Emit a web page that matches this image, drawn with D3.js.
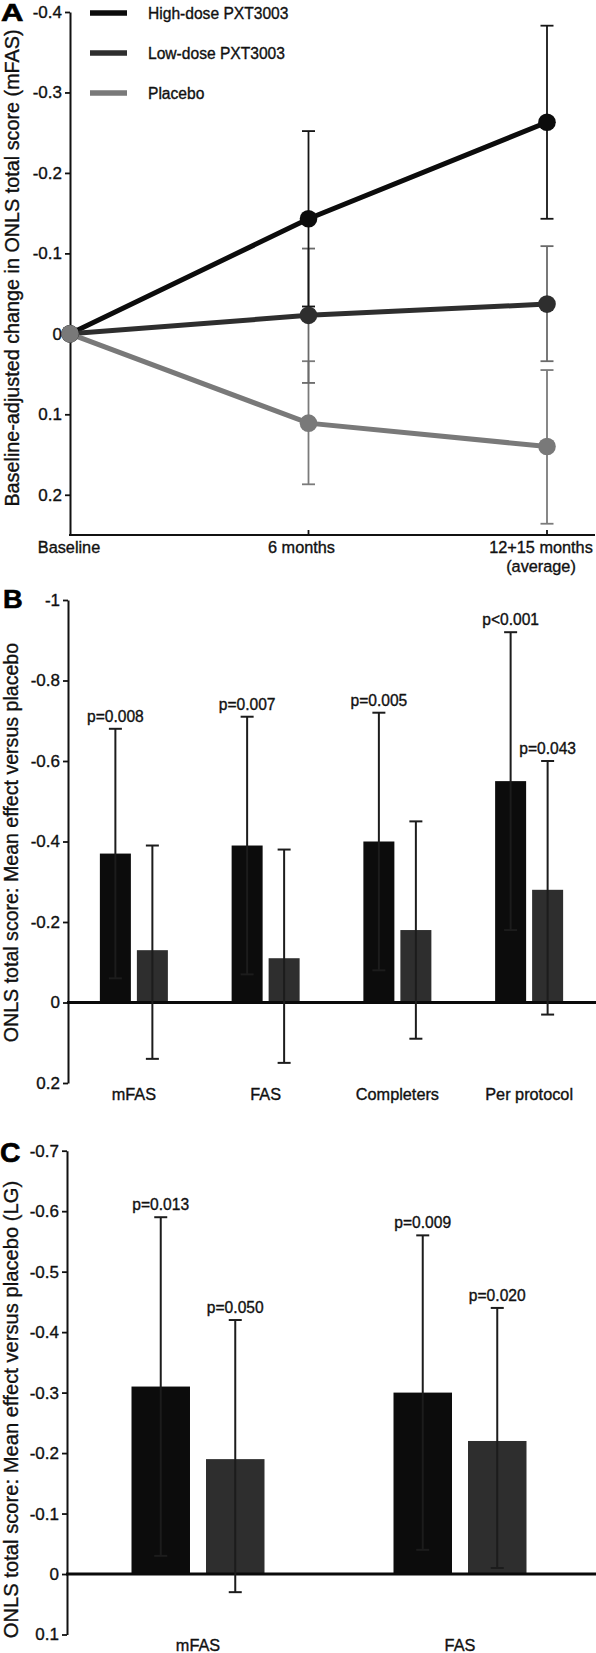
<!DOCTYPE html>
<html>
<head>
<meta charset="utf-8">
<script src="https://cdn.jsdelivr.net/npm/d3@7/dist/d3.min.js"></script>
<style>
  html, body { margin: 0; padding: 0; background: #fff; }
  svg { display: block; }
  text { font-family: "Liberation Sans", Arial, Helvetica, sans-serif; fill: #111; stroke: #111; stroke-width: 0.35px; }
</style>
</head>
<body>
<svg id="chart" width="596" height="1653"></svg>
<script>
// ---------------- DATA ----------------
// Panel A
const timepoints = ["Baseline", "6 months", "12+15 months (average)"];
const timeLabels = [["Baseline"], ["6 months"], ["12+15 months", "(average)"]];
const seriesA = ["High-dose PXT3003", "Low-dose PXT3003", "Placebo"];
const highA      = [0, -0.143, -0.263];
const highA_lo   = [null, -0.252, -0.383];
const highA_hi   = [null, -0.034, -0.143];
const lowA       = [0, -0.023, -0.037];
const lowA_lo    = [null, -0.106, -0.109];
const lowA_hi    = [null, 0.061, 0.034];
const placeboA   = [0, 0.111, 0.140];
const placeboA_lo = [null, 0.034, 0.045];
const placeboA_hi = [null, 0.187, 0.236];
const ticksA = [-0.4, -0.3, -0.2, -0.1, 0, 0.1, 0.2];
const tickLabelsA = ["-0.4", "-0.3", "-0.2", "-0.1", "0", "0.1", "0.2"];

// Panel B
const catsB = ["mFAS", "FAS", "Completers", "Per protocol"];
const highB    = [-0.37, -0.39, -0.40, -0.55];
const highB_lo = [-0.68, -0.71, -0.72, -0.92];
const highB_hi = [-0.06, -0.07, -0.08, -0.18];
const lowB     = [-0.13, -0.11, -0.18, -0.28];
const lowB_lo  = [-0.39, -0.38, -0.45, -0.60];
const lowB_hi  = [0.14, 0.15, 0.09, 0.03];
const pHighB = ["p=0.008", "p=0.007", "p=0.005", "p<0.001"];
const pLowB  = [null, null, null, "p=0.043"];
const ticksB = [-1, -0.8, -0.6, -0.4, -0.2, 0, 0.2];
const tickLabelsB = ["-1", "-0.8", "-0.6", "-0.4", "-0.2", "0", "0.2"];

// Panel C
const catsC = ["mFAS", "FAS"];
const highC    = [-0.31, -0.30];
const highC_lo = [-0.59, -0.56];
const highC_hi = [-0.03, -0.04];
const lowC     = [-0.19, -0.22];
const lowC_lo  = [-0.42, -0.44];
const lowC_hi  = [0.03, -0.01];
const pHighC = ["p=0.013", "p=0.009"];
const pLowC  = ["p=0.050", "p=0.020"];
const ticksC = [-0.7, -0.6, -0.5, -0.4, -0.3, -0.2, -0.1, 0, 0.1];
const tickLabelsC = ["-0.7", "-0.6", "-0.5", "-0.4", "-0.3", "-0.2", "-0.1", "0", "0.1"];

// ---------------- STYLE ----------------
const W = 596;
const colHigh = "#0c0c0c", colLow = "#2e2e2e", colPlacebo = "#797979";
const errColA = ["#161616", "#6a6a6a", "#7b7b7b"];
const tickFont = "17px", catFont = "16.3px", pFont = "15.6px";

const svg = d3.select("#chart");

function styleAxis(g) {
  g.select(".domain").attr("stroke", "#111").attr("stroke-width", 2);
  g.selectAll(".tick line").attr("stroke", "#111").attr("stroke-width", 1.8);
  g.selectAll(".tick text").style("font-size", tickFont).attr("fill", "#111");
}

function yTitle(text, x, cy, size) {
  svg.append("text")
    .attr("transform", `translate(${x},${cy}) rotate(-90)`)
    .attr("text-anchor", "middle")
    .style("font-size", size)
    .text(text);
}

function panelLetter(t, x, y, size, sx) {
  svg.append("text")
    .attr("transform", `translate(${x},${y}) scale(${sx},1)`)
    .style("font-size", size).style("font-weight", "bold")
    .style("fill", "#000").style("stroke", "#000").style("stroke-width", "0.6px")
    .text(t);
}

// ================= PANEL A =================
{
  const yA = d3.scaleLinear().domain([0.25, -0.4]).range([535, 12]);
  const xA = d3.scalePoint().domain(timepoints).range([70, 547]);
  const x0 = 70;

  const gy = svg.append("g").attr("transform", `translate(${x0},0)`)
    .call(d3.axisLeft(yA).tickValues(ticksA)
      .tickFormat((d, i) => tickLabelsA[i]).tickSize(5).tickPadding(3).tickSizeOuter(0));
  styleAxis(gy);

  svg.append("line").attr("x1", x0 - 1).attr("x2", W - 1)
    .attr("y1", yA(0.25)).attr("y2", yA(0.25))
    .attr("stroke", "#111").attr("stroke-width", 2);
  svg.append("g").selectAll("line").data(timepoints.slice(1)).join("line")
    .attr("x1", d => xA(d)).attr("x2", d => xA(d))
    .attr("y1", yA(0.25)).attr("y2", yA(0.25) - 5)
    .attr("stroke", "#111").attr("stroke-width", 1.8);

  const labelDx = [-1, -7, -6];
  timepoints.forEach((t, i) => {
    const tx = svg.append("text").attr("text-anchor", "middle")
      .attr("x", xA(t) + labelDx[i]).attr("y", 553).style("font-size", catFont);
    timeLabels[i].forEach((ln, j) => {
      tx.append("tspan").attr("x", xA(t) + labelDx[i]).attr("dy", j === 0 ? 0 : 19).text(ln);
    });
  });

  const series = [
    { name: seriesA[0], v: highA, lo: highA_lo, hi: highA_hi, col: colHigh, ecol: errColA[0] },
    { name: seriesA[1], v: lowA, lo: lowA_lo, hi: lowA_hi, col: colLow, ecol: errColA[1] },
    { name: seriesA[2], v: placeboA, lo: placeboA_lo, hi: placeboA_hi, col: colPlacebo, ecol: errColA[2] }
  ];

  const gErr = svg.append("g");
  [series[2], series[1], series[0]].forEach(s => {
    timepoints.forEach((t, i) => {
      if (s.lo[i] === null) return;
      const x = xA(t), y1 = yA(s.lo[i]), y2 = yA(s.hi[i]);
      gErr.append("line").attr("x1", x).attr("x2", x).attr("y1", y1).attr("y2", y2)
        .attr("stroke", s.ecol).attr("stroke-width", 1.8);
      [y1, y2].forEach(yy => gErr.append("line")
        .attr("x1", x - 6.5).attr("x2", x + 6.5).attr("y1", yy).attr("y2", yy)
        .attr("stroke", s.ecol).attr("stroke-width", 1.8));
    });
  });

  const line = d3.line().x((d, i) => xA(timepoints[i])).y(d => yA(d));
  series.forEach(s => {
    svg.append("path").datum(s.v).attr("d", line)
      .attr("fill", "none").attr("stroke", s.col).attr("stroke-width", 5);
  });
  series.forEach(s => {
    svg.append("g").selectAll("circle").data(s.v).join("circle")
      .attr("cx", (d, i) => xA(timepoints[i])).attr("cy", d => yA(d))
      .attr("r", 8.8).attr("fill", s.col);
  });

  const lg = svg.append("g");
  series.forEach((s, i) => {
    const y = 13 + i * 40;
    lg.append("line").attr("x1", 90).attr("x2", 127).attr("y1", y).attr("y2", y)
      .attr("stroke", s.col).attr("stroke-width", 5.5);
    lg.append("text").attr("x", 148).attr("y", y).attr("dy", "0.38em")
      .style("font-size", "15.6px").text(s.name);
  });

  yTitle("Baseline-adjusted change in ONLS total score (mFAS)", 18.5, 268, "19.8px");
  panelLetter("A", 1, 21, "23px", 1.35);
}

// ================= BAR PANEL FUNCTION =================
function barPanel(cfg) {
  const y = d3.scaleLinear().domain(cfg.domain).range(cfg.yRange);
  const x = d3.scaleBand().domain(cfg.cats).range(cfg.xRange);
  const bw = x.bandwidth();
  const x1 = d3.scaleBand().domain(["high", "low"])
    .range([bw / 2 - cfg.inner / 2, bw / 2 + cfg.inner / 2]).paddingInner(cfg.pad);

  const gy = svg.append("g").attr("transform", `translate(${cfg.xRange[0]},0)`)
    .call(d3.axisLeft(y).tickValues(cfg.ticks)
      .tickFormat((d, i) => cfg.tickLabels[i]).tickSize(5).tickPadding(3).tickSizeOuter(0));
  styleAxis(gy);

  const groups = [
    { key: "high", v: cfg.high, lo: cfg.highLo, hi: cfg.highHi, col: colHigh, p: cfg.pHigh },
    { key: "low", v: cfg.low, lo: cfg.lowLo, hi: cfg.lowHi, col: colLow, p: cfg.pLow }
  ];

  groups.forEach(gr => {
    svg.append("g").selectAll("rect").data(gr.v).join("rect")
      .attr("x", (d, i) => x(cfg.cats[i]) + x1(gr.key))
      .attr("width", x1.bandwidth())
      .attr("y", d => Math.min(y(d), y(0)))
      .attr("height", d => Math.abs(y(d) - y(0)))
      .attr("fill", gr.col);
  });

  svg.append("line").attr("x1", cfg.xRange[0] - 1).attr("x2", W)
    .attr("y1", y(0)).attr("y2", y(0)).attr("stroke", "#0a0a0a").attr("stroke-width", 3);

  groups.forEach(gr => {
    gr.v.forEach((d, i) => {
      const cx = x(cfg.cats[i]) + x1(gr.key) + x1.bandwidth() / 2;
      const y1 = y(gr.lo[i]), y2 = y(gr.hi[i]);
      svg.append("line").attr("x1", cx).attr("x2", cx).attr("y1", y1).attr("y2", y2)
        .attr("stroke", "#1c1c1c").attr("stroke-width", 2);
      [y1, y2].forEach(yy => svg.append("line")
        .attr("x1", cx - 6.5).attr("x2", cx + 6.5).attr("y1", yy).attr("y2", yy)
        .attr("stroke", "#1c1c1c").attr("stroke-width", 2));
      if (gr.p[i]) {
        svg.append("text").attr("x", cx).attr("y", Math.min(y1, y2) - 7)
          .attr("text-anchor", "middle").style("font-size", pFont).text(gr.p[i]);
      }
    });
  });

  svg.append("g").selectAll("text").data(cfg.cats).join("text")
    .attr("x", d => x(d) + bw / 2).attr("y", cfg.catY)
    .attr("text-anchor", "middle").style("font-size", catFont).text(d => d);

  yTitle(cfg.title, cfg.titleX, cfg.titleCY, cfg.titleSize);
  panelLetter(cfg.letter, cfg.letterX, cfg.letterY, cfg.letterSize, 1.05);
}

// ================= PANEL B =================
barPanel({
  cats: catsB, domain: [0.2, -1], yRange: [1083, 600], xRange: [68, 595],
  inner: 68, pad: 0.162,
  ticks: ticksB, tickLabels: tickLabelsB,
  high: highB, highLo: highB_lo, highHi: highB_hi,
  low: lowB, lowLo: lowB_lo, lowHi: lowB_hi,
  pHigh: pHighB, pLow: pLowB,
  catY: 1100,
  title: "ONLS total score: Mean effect versus placebo", titleX: 18.3, titleCY: 842.5, titleSize: "19.6px",
  letter: "B", letterX: 3, letterY: 608, letterSize: "26px"
});

// ================= PANEL C =================
barPanel({
  cats: catsC, domain: [0.1, -0.7], yRange: [1634.5, 1150.7], xRange: [67, 591],
  inner: 133, pad: 0.215,
  ticks: ticksC, tickLabels: tickLabelsC,
  high: highC, highLo: highC_lo, highHi: highC_hi,
  low: lowC, lowLo: lowC_lo, lowHi: lowC_hi,
  pHigh: pHighC, pLow: pLowC,
  catY: 1651,
  title: "ONLS total score: Mean effect versus placebo (LG)", titleX: 18, titleCY: 1409.5, titleSize: "20.2px",
  letter: "C", letterX: 0, letterY: 1162, letterSize: "27px"
});
</script>
</body>
</html>
